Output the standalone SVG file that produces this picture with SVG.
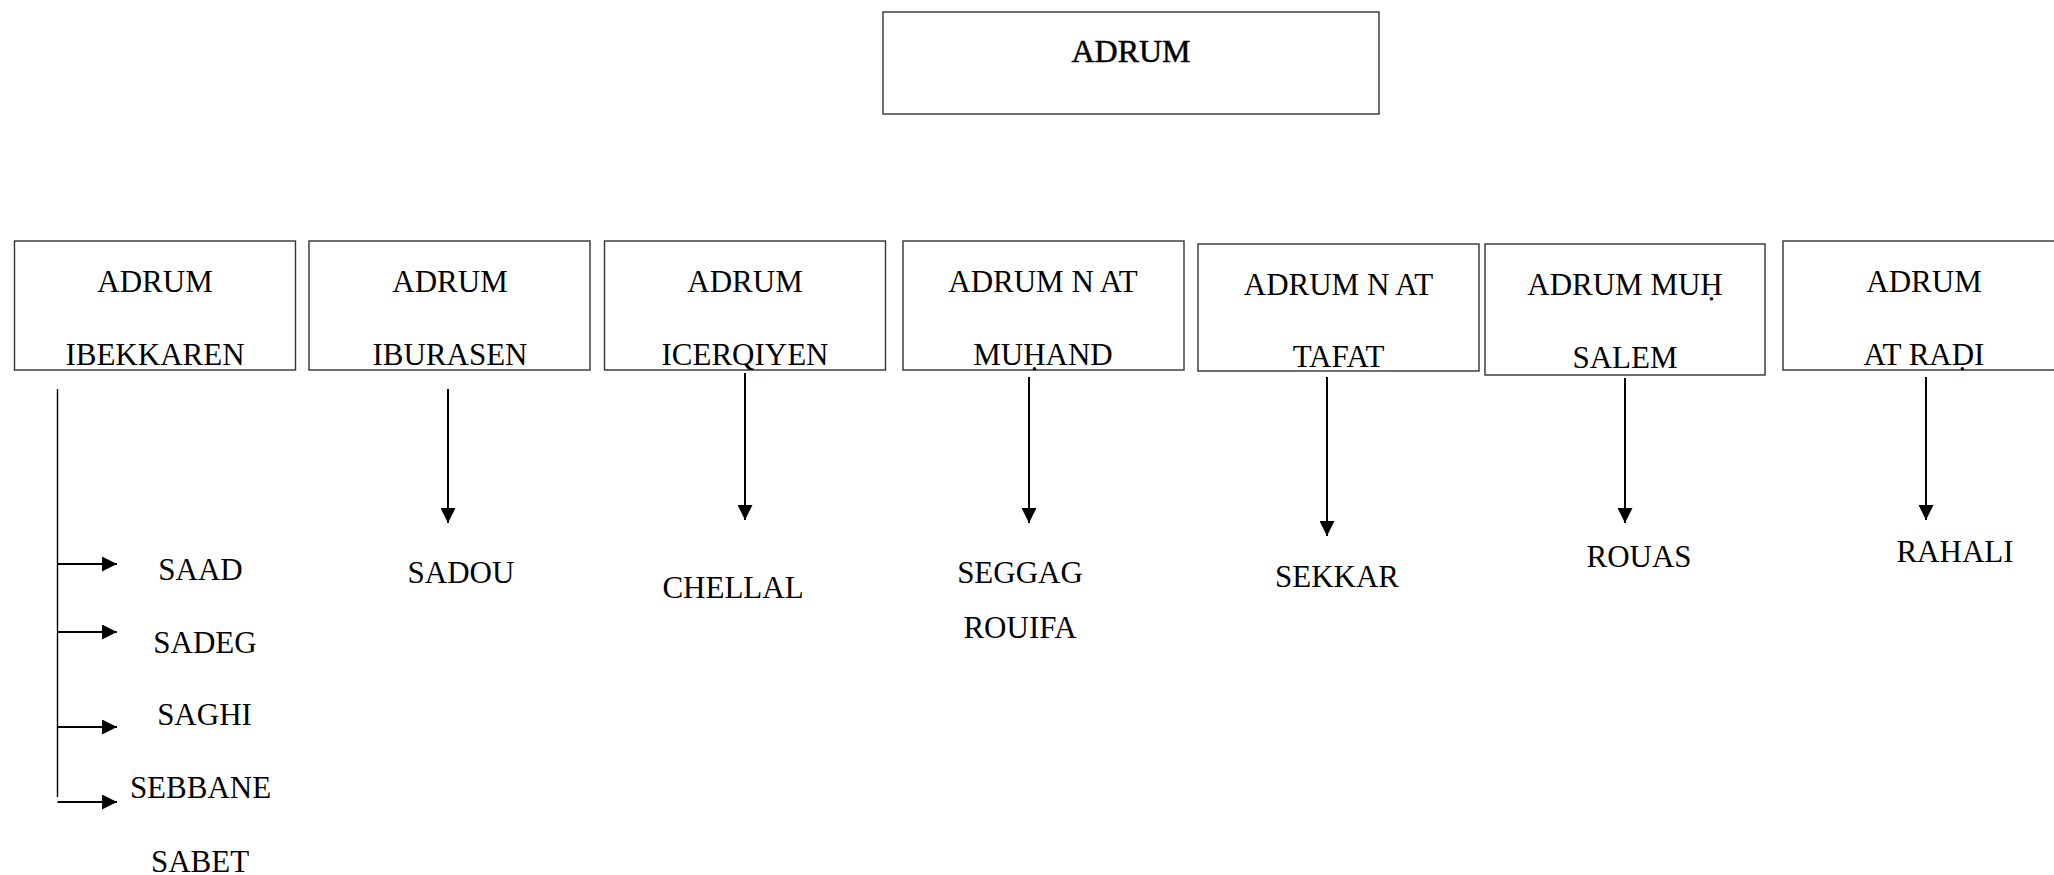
<svg xmlns="http://www.w3.org/2000/svg" width="2054" height="875" viewBox="0 0 2054 875">
<style>
  .box { fill: #ffffff; stroke: #333333; stroke-width: 1.4; }
  .t { font-family: "Liberation Serif", "Times New Roman", serif; font-size: 31px; fill: #000; text-anchor: middle; }
  .top { font-size: 32px; stroke: #000; stroke-width: 0.5; }
  .ln { stroke: #000; stroke-width: 2; fill: none; }
  .thin { stroke: #000; stroke-width: 1.4; fill: none; }
</style>
<defs>
  <marker id="ah" viewBox="0 0 15 15" refX="15" refY="7.5" markerWidth="15" markerHeight="15" markerUnits="userSpaceOnUse" orient="auto">
    <path d="M0,0 L15,7.5 L0,15 Z" fill="#000"/>
  </marker>
</defs>
<rect width="2054" height="875" fill="#ffffff"/>

<g id="root">
  <rect class="box" x="883" y="12" width="496" height="102"/>
  <text class="t top" x="1131" y="62">ADRUM</text>
</g>

<g id="n-ibekkaren">
  <rect class="box" x="14.5" y="241" width="281" height="129"/>
  <text class="t" x="155" y="292">ADRUM</text>
  <text class="t" x="155" y="365">IBEKKAREN</text>
</g>
<g id="n-iburasen">
  <rect class="box" x="309" y="241" width="281" height="129"/>
  <text class="t" x="450" y="292">ADRUM</text>
  <text class="t" x="450" y="365">IBURASEN</text>
</g>
<g id="n-icerqiyen">
  <rect class="box" x="604.5" y="241" width="281" height="129"/>
  <text class="t" x="745" y="292">ADRUM</text>
  <text class="t" x="745" y="365">ICERQIYEN</text>
</g>
<g id="n-muhand">
  <rect class="box" x="903" y="241" width="281" height="129"/>
  <text class="t" x="1043" y="292">ADRUM N AT</text>
  <text class="t" x="1043" y="365">MUḤAND</text>
</g>
<g id="n-tafat">
  <rect class="box" x="1198" y="244" width="281" height="127"/>
  <text class="t" x="1338.5" y="295">ADRUM N AT</text>
  <text class="t" x="1338.5" y="367">TAFAT</text>
</g>
<g id="n-salem">
  <rect class="box" x="1485" y="244" width="280" height="131"/>
  <text class="t" x="1625" y="295">ADRUM MUḤ</text>
  <text class="t" x="1625" y="368">SALEM</text>
</g>
<g id="n-radi">
  <rect class="box" x="1783" y="241" width="281" height="129"/>
  <text class="t" x="1924" y="292">ADRUM</text>
  <text class="t" x="1924" y="365">AT RAḌI</text>
</g>

<g id="leaves">
  <text class="t" x="200.5" y="580">SAAD</text>
  <text class="t" x="205" y="653">SADEG</text>
  <text class="t" x="204.5" y="725">SAGHI</text>
  <text class="t" x="200.5" y="798">SEBBANE</text>
  <text class="t" x="200" y="872">SABET</text>
  <text class="t" x="461" y="583">SADOU</text>
  <text class="t" x="733" y="598">CHELLAL</text>
  <text class="t" x="1020" y="583">SEGGAG</text>
  <text class="t" x="1020" y="638">ROUIFA</text>
  <text class="t" x="1337" y="587">SEKKAR</text>
  <text class="t" x="1639" y="567">ROUAS</text>
  <text class="t" x="1955" y="562">RAHALI</text>
</g>

<g id="connectors">
  <line class="thin" x1="57.5" y1="389" x2="57.5" y2="797"/>
  <line class="ln" x1="57.5" y1="564" x2="117" y2="564" marker-end="url(#ah)"/>
  <line class="ln" x1="57.5" y1="632" x2="117" y2="632" marker-end="url(#ah)"/>
  <line class="ln" x1="57.5" y1="727" x2="117" y2="727" marker-end="url(#ah)"/>
  <line class="ln" x1="57.5" y1="802" x2="117" y2="802" marker-end="url(#ah)"/>
  <line class="ln" x1="448" y1="389" x2="448" y2="523" marker-end="url(#ah)"/>
  <line class="ln" x1="745" y1="373" x2="745" y2="520" marker-end="url(#ah)"/>
  <line class="ln" x1="1029" y1="377" x2="1029" y2="523" marker-end="url(#ah)"/>
  <line class="ln" x1="1327" y1="377" x2="1327" y2="536" marker-end="url(#ah)"/>
  <line class="ln" x1="1625" y1="378" x2="1625" y2="523" marker-end="url(#ah)"/>
  <line class="ln" x1="1926" y1="377" x2="1926" y2="520" marker-end="url(#ah)"/>
</g>
</svg>
